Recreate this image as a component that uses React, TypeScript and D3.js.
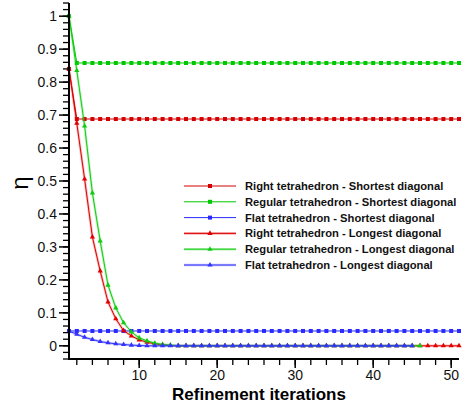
import React from "react";
import * as d3 from "d3";

const iterations = d3.range(1, 52);
const rightShortest = [0.84, ...Array(50).fill(0.688)];
const regularShortest = [1.0, ...Array(50).fill(0.858)];
const flatShortest = Array(51).fill(0.045);
const rightLongestHead = [0.84, 0.675, 0.506, 0.33, 0.227, 0.133, 0.082, 0.046, 0.03, 0.018, 0.011, 0.006, 0.003, 0.001];
const regularLongestHead = [1.0, 0.835, 0.667, 0.464, 0.318, 0.184, 0.115, 0.07, 0.042, 0.024, 0.015, 0.008, 0.004, 0.002];
const flatLongestHead = [0.045, 0.035, 0.026, 0.019, 0.013, 0.009, 0.006, 0.004, 0.002, 0.001];
const rightLongest = [...rightLongestHead, ...Array(51 - rightLongestHead.length).fill(0)];
const regularLongest = [...regularLongestHead, ...Array(46 - regularLongestHead.length).fill(0)];
const flatLongest = [...flatLongestHead, ...Array(45 - flatLongestHead.length).fill(0)];

const yTicks = [0, 0.1, 0.2, 0.3, 0.4, 0.5, 0.6, 0.7, 0.8, 0.9, 1];
const xTicks = [10, 20, 30, 40, 50];

const series = [
  { name: "Right tetrahedron - Shortest diagonal", values: rightShortest, color: "#d40000", marker: "square", longest: false },
  { name: "Regular tetrahedron - Shortest diagonal", values: regularShortest, color: "#00c800", marker: "square", longest: false },
  { name: "Flat tetrahedron - Shortest diagonal", values: flatShortest, color: "#2a2aff", marker: "square", longest: false },
  { name: "Right tetrahedron - Longest diagonal", values: rightLongest, color: "#e00000", marker: "triangle", longest: true },
  { name: "Regular tetrahedron - Longest diagonal", values: regularLongest, color: "#10cc10", marker: "triangle", longest: true },
  { name: "Flat tetrahedron - Longest diagonal", values: flatLongest, color: "#3333ff", marker: "triangle", longest: true },
];

const FONT = "'Liberation Sans', Arial, sans-serif";

function Marker({ type, x, y, color }: { type: string; x: number; y: number; color: string }) {
  if (type === "square") {
    return <rect x={x - 2} y={y - 2} width={4} height={4} fill={color} />;
  }
  const p = d3.symbol().type(d3.symbolTriangle).size(12)();
  return <path d={p || ""} transform={`translate(${x},${y})`} fill={color} />;
}

export default function App() {
  const x = d3.scaleLinear().domain([1, 51]).range([69, 459]);
  const y = d3.scaleLinear().domain([-0.04, 1.04]).range([359, 3]);
  const line = d3
    .line<number>()
    .x((_, i) => x(iterations[i]))
    .y((d) => y(d));

  const yMinor = d3.range(-0.04, 1.0401, 0.02).map((v) => Math.round(v * 100) / 100);
  const xMinor = d3.range(2, 52, 2);

  const legX = 184;
  const legY0 = 186;
  const legDy = 15.8;

  return (
    <svg width={464} height={407} style={{ position: "absolute", left: 0, top: 0, background: "#fff" }}>
      {/* series */}
      {series.map((s, si) => (
        <g key={si}>
          {s.longest && (
            <path d={line(s.values) || ""} fill="none" stroke={s.color} strokeWidth={2.6} strokeOpacity={0.25} />
          )}
          <path d={line(s.values) || ""} fill="none" stroke={s.color} strokeWidth={1} />
          {s.values.map((v, i) => (
            <Marker key={i} type={s.marker} x={x(iterations[i])} y={y(v)} color={s.color} />
          ))}
        </g>
      ))}

      {/* y axis */}
      <line x1={69} x2={69} y1={y(1.04)} y2={y(-0.04)} stroke="#000" strokeWidth={2} />
      {yMinor.map((v, i) => (
        <line key={i} x1={63} x2={69} y1={y(v)} y2={y(v)} stroke="#000" strokeWidth={1.3} />
      ))}
      {yTicks.map((v, i) => (
        <g key={i}>
          <line x1={59} x2={69} y1={y(v)} y2={y(v)} stroke="#000" strokeWidth={1.5} />
          <text x={57} y={y(v)} dy="0.36em" textAnchor="end" fontFamily={FONT} fontSize={14} fill="#111">
            {String(v)}
          </text>
        </g>
      ))}

      {/* x axis */}
      <line x1={68} x2={459} y1={359} y2={359} stroke="#000" strokeWidth={2} />
      {xMinor.map((v, i) => (
        <line key={i} x1={x(v)} x2={x(v)} y1={359} y2={365} stroke="#000" strokeWidth={1.3} />
      ))}
      {xTicks.map((v, i) => (
        <g key={i}>
          <line x1={x(v)} x2={x(v)} y1={359} y2={368} stroke="#000" strokeWidth={1.5} />
          <text x={x(v)} y={380} textAnchor="middle" fontFamily={FONT} fontSize={14} fill="#111">
            {v}
          </text>
        </g>
      ))}

      <text x={259} y={400} textAnchor="middle" fontFamily={FONT} fontSize={17} fontWeight="bold" fill="#000">
        Refinement iterations
      </text>
      <text
        transform="translate(28,183) rotate(-90)"
        textAnchor="middle"
        fontFamily={FONT}
        fontSize={24}
        fill="#000"
      >
        η
      </text>

      {/* legend */}
      {series.map((s, i) => {
        const ly = legY0 + i * legDy;
        return (
          <g key={i}>
            {s.longest && (
              <line x1={legX} x2={legX + 52} y1={ly} y2={ly} stroke={s.color} strokeWidth={2.6} strokeOpacity={0.3} />
            )}
            <line x1={legX} x2={legX + 52} y1={ly} y2={ly} stroke={s.color} strokeWidth={1} />
            <Marker type={s.marker} x={legX + 26} y={ly} color={s.color} />
            <text x={245} y={ly} dy="0.36em" fontFamily={FONT} fontSize={11.2} fontWeight="bold" fill="#111">
              {s.name}
            </text>
          </g>
        );
      })}
    </svg>
  );
}
